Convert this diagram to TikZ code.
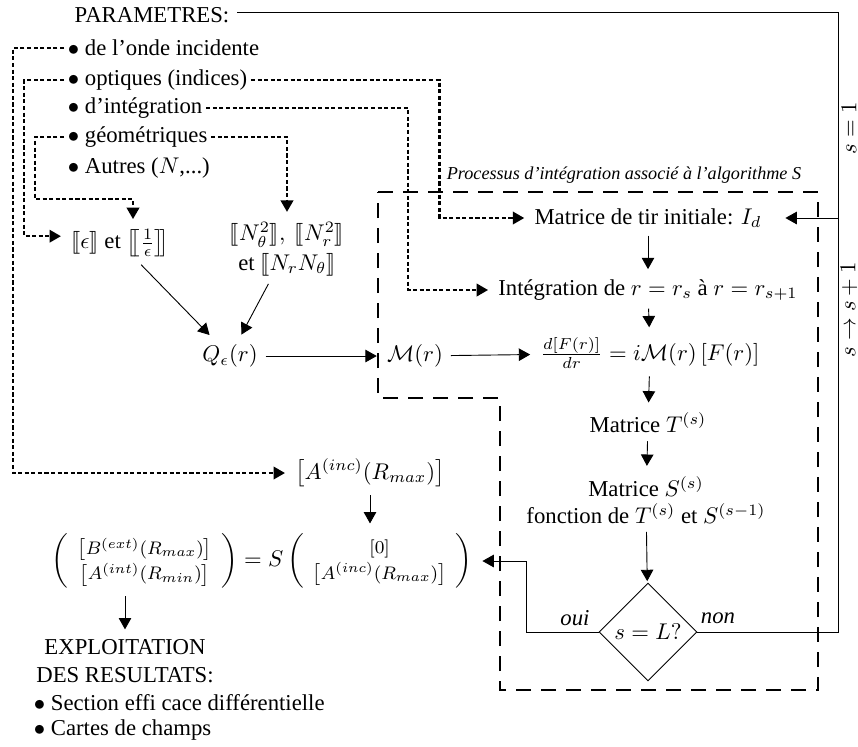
\documentclass[tikz,border=0pt]{standalone}
\usepackage[no-math]{fontspec}
\setmainfont{Liberation Serif}
\usepackage{amsmath}
\usepackage{stmaryrd}
\usetikzlibrary{arrows.meta,calc,shapes.geometric,positioning}

\begin{document}
\begin{tikzpicture}[x=0.44pt,y=-0.44pt]

        % Setup the styles for the nodes and the connectors
        \tikzset{item style/.style={anchor=west, inner sep=1.5pt},
                 arrow style/.style={-{Triangle[length=5pt,width=5.5pt]},
                                     line width=0.4pt,
                                     shorten >=1pt},
                 dotted style/.style={arrow style,
                                      line width=0.9pt,
                                      dash pattern=on 1.8pt off 1.1pt},
                 frame style/.style={line width=1pt,
                                     dash pattern=on 6.5pt off 4.5pt},
                 test style/.style={diamond, draw,
                                    line width=0.4pt,
                                    inner sep=0pt,
                                    minimum size=43pt}}

        \useasboundingbox (0,0) rectangle (858,746);

        % Draw the parameters
        \node (params) at (152,15) {PARAMETRES:};
        \node[item style] (onde)     at (64,48)  {$\bullet$ de l'onde incidente};
        \node[item style] (optiques) at (64,80)  {$\bullet$ optiques (indices)};
        \node[item style] (integ)    at (64,108) {$\bullet$ d'intégration};
        \node[item style] (geom)     at (64,137) {$\bullet$ géométriques};
        \node[item style] (autres)   at (64,168) {$\bullet$ Autres ($N$,...)};

        % Draw the matrices
        \node (eps) at (120,243)
            {$\llbracket\epsilon\rrbracket$ et $\left[\mkern-4mu\left[\frac{1}{\epsilon}\right]\mkern-4mu\right]$};
        \node[align=center] (nn) at (287,249)
            {$\llbracket N_\theta^2\rrbracket,\ \llbracket N_r^2\rrbracket$\\[1pt]et $\llbracket N_r N_\theta\rrbracket$};
        \node (qeps) at (230,356) {$Q_\epsilon(r)$};
        \node (mr)   at (415,356) {$\mathcal{M}(r)$};

        % Draw the integration process
        \node (proc) at (624,175) {\footnotesize\itshape Processus d'intégration associé à l'algorithme S};
        \draw[frame style] (378,192) -- (818,192) -- (818,690) -- (500,690)
                           -- (500,398) -- (378,398) -- cycle;
        \node (tir)    at (648,218) {Matrice de tir initiale: $I_d$};
        \node (integr) at (648,290) {Intégration de $r=r_s$ à $r=r_{s+1}$};
        \node (eq)     at (650,353) {$\frac{d[F(r)]}{dr}=i\mathcal{M}(r)\,[F(r)]$};
        \node (matT)   at (648,423) {Matrice $T^{(s)}$};
        \node[align=center] (matS) at (646,500)
            {Matrice $S^{(s)}$\\fonction de $T^{(s)}$ et $S^{(s-1)}$};
        \node[test style] (test) at (648,632) {$s=L?$};
        \node (oui) at (575,618) {\textit{oui}};
        \node (non) at (718,618) {\textit{non}};
        \node[rotate=90, inner sep=0pt] (sinit) at (849,128) {$s=1$};
        \node[rotate=90, inner sep=0pt] (sinc)  at (849,310) {$s\rightarrow s+1$};

        % Draw the results
        \node (ainc) at (370,473) {$\left[A^{(inc)}(R_{max})\right]$};
        \node (res) at (262,561)
            {$\left(\hspace{4pt}\mbox{\footnotesize$\begin{array}{@{}c@{}}\left[B^{(ext)}(R_{max})\right]\\[1pt] \left[A^{(int)}(R_{min})\right]\end{array}$}\hspace{4pt}\right)
              = S\left(\hspace{4pt}\mbox{\footnotesize$\begin{array}{@{}c@{}}[0]\\[1pt] \left[A^{(inc)}(R_{max})\right]\end{array}$}\hspace{4pt}\right)$};
        \node[align=center] (exploit) at (125,661) {EXPLOITATION\\DES RESULTATS:};
        \node[item style] (sect)   at (30,703) {$\bullet$ Section effi cace différentielle};
        \node[item style] (cartes) at (30,730) {$\bullet$ Cartes de champs};

        % Connect the nodes with arrows
        \draw[arrow style] (eps) -- (qeps);
        \draw[arrow style] (nn) -- (qeps);
        \draw[arrow style] (qeps) -- (mr);
        \draw[arrow style] (mr) -- (eq);
        \draw[arrow style] (tir) -- (integr);
        \draw[arrow style] (integr) -- (eq);
        \draw[arrow style] (eq) -- (matT);
        \draw[arrow style] (matT) -- (matS);
        \draw[arrow style] (matS) -- (test);
        \draw[arrow style] (test.west) -- ++(-72,0) |- (res.east);
        \coordinate (corner) at (838,632);
        \draw[arrow style, shorten >=7pt] (test.east) -- (corner) |- (tir.east);
        \draw ([yshift=1.3pt]params.east) -| (corner |- tir.east);
        \draw[arrow style] (ainc) -- (ainc |- res.north);
        \draw[arrow style] (res.south -| exploit.north) -- (exploit.north);

        % Connect the parameters with dotted arrows
        \draw[dotted style] (onde.west) -- ++(-51,0) |- (ainc.west);
        \draw[dotted style] (optiques.west) -- ++(-40,0) |- ([yshift=3pt]eps.west);
        \draw[dotted style] (optiques.east) -| ($(tir.west)+(-87,0)$) -- (tir.west);
        \draw[dotted style] (integ.east) -| ($(integr.west)+(-82,0)$) -- (integr.west);
        \draw[dotted style] (geom.east) -| (nn.north);
        \draw[dotted style] (geom.west) -- ++(-29,0) |- ($(eps.north)+(13,-22)$) -- ($(eps.north)+(13,0)$);
\end{tikzpicture}
\end{document}
